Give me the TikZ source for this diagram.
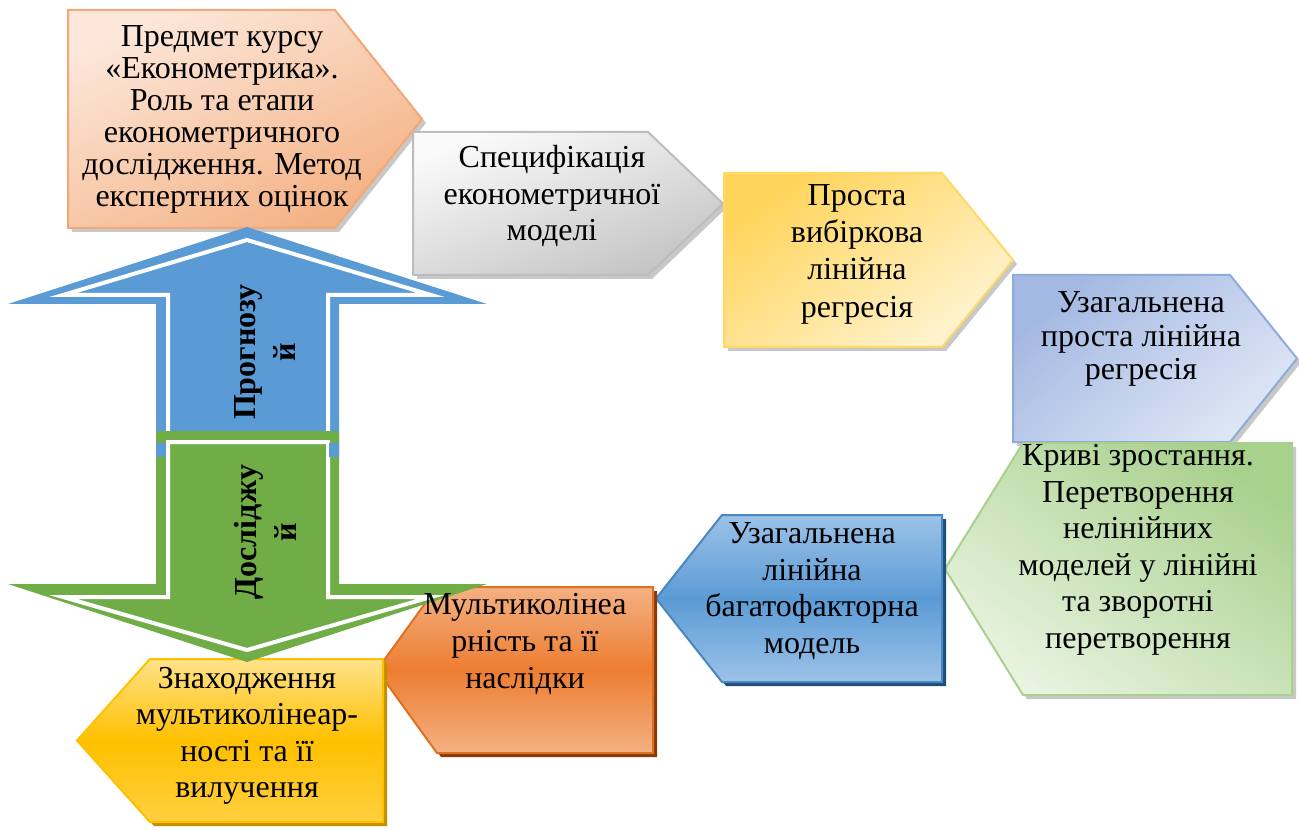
\documentclass[tikz,border=0pt]{standalone}
\usepackage{fontspec}
\setmainfont{Liberation Serif}
\definecolor{peachL}{HTML}{FCE7DA}
\definecolor{peachD}{HTML}{F4B183}
\definecolor{peachB}{HTML}{F2A878}
\definecolor{grayL}{HTML}{FAFAFA}
\definecolor{grayD}{HTML}{C4C4C4}
\definecolor{grayB}{HTML}{BDBDBD}
\definecolor{yelL}{HTML}{FFF4D2}
\definecolor{yelD}{HTML}{FFD45A}
\definecolor{yelB}{HTML}{FFD966}
\definecolor{lbL}{HTML}{DFE7F5}
\definecolor{lbD}{HTML}{A3B8E2}
\definecolor{lbB}{HTML}{8FAADC}
\definecolor{grnL}{HTML}{E8F3E0}
\definecolor{grnD}{HTML}{A9D18E}
\definecolor{grnB}{HTML}{A9D18E}
\definecolor{bluT}{HTML}{9CC2E8}
\definecolor{bluM}{HTML}{5B9BD5}
\definecolor{bluB}{HTML}{4A86C0}
\definecolor{bluS}{HTML}{1F4E79}
\definecolor{orT}{HTML}{F4B183}
\definecolor{orM}{HTML}{ED7D31}
\definecolor{orB}{HTML}{E0701F}
\definecolor{orS}{HTML}{843C0C}
\definecolor{goT}{HTML}{FFE28A}
\definecolor{goM}{HTML}{FFC000}
\definecolor{goB}{HTML}{FFC000}
\definecolor{goS}{HTML}{BF9000}
\definecolor{shGray}{HTML}{C8C8C8}
\definecolor{arBlue}{HTML}{5B9BD5}
\definecolor{arGreen}{HTML}{70AD47}
% right-pointing pentagon: style, shadow colour, x1, x2, xtip, y1, y2
\newcommand\rshape[7]{%
  \fill[#2] ([shift={(4,4)}]#3,#6) -- ([shift={(4,4)}]#4,#6) -- ([shift={(4,4)}]#5,{(#6+#7)/2}) -- ([shift={(4,4)}]#4,#7) -- ([shift={(4,4)}]#3,#7) -- cycle;
  \path[#1] (#3,#6) -- (#4,#6) -- (#5,{(#6+#7)/2}) -- (#4,#7) -- (#3,#7) -- cycle;}
% left-pointing pentagon: style, shadow colour, xtip, x2, xright, y1, y2
\newcommand\lshape[7]{%
  \fill[#2] ([shift={(4,4)}]#5,#6) -- ([shift={(4,4)}]#4,#6) -- ([shift={(4,4)}]#3,{(#6+#7)/2}) -- ([shift={(4,4)}]#4,#7) -- ([shift={(4,4)}]#5,#7) -- cycle;
  \path[#1] (#5,#6) -- (#4,#6) -- (#3,{(#6+#7)/2}) -- (#4,#7) -- (#5,#7) -- cycle;}
\begin{document}
\begin{tikzpicture}[x=0.75pt,y=-0.75pt,
  bord/.style={line width=1.5pt, line join=miter},
  txt/.style={align=center, inner sep=0pt, font=\fontsize{24}{27.4}\selectfont},
  atxt/.style={align=center, inner sep=0pt, rotate=90, font=\fontsize{24}{30}\selectfont\bfseries}]
\useasboundingbox (0,0) rectangle (1299,830);
\fill[white] (0,0) rectangle (1299,830);
% boxes
\rshape{bord, draw=peachB, top color=peachL, bottom color=peachD, shading angle=25}{shGray}{68}{335}{422}{10}{228}
\rshape{bord, draw=grayB, top color=grayL, bottom color=grayD, shading angle=20}{shGray}{413}{648}{723}{132}{275}
\rshape{bord, draw=yelB, top color=yelD, bottom color=yelL, shading angle=35}{shGray}{724}{942}{1013}{173}{347}
\rshape{bord, draw=lbB, top color=lbD, bottom color=lbL, shading angle=40}{shGray}{1013}{1230}{1297}{275}{442}
\lshape{bord, draw=grnB, top color=grnD, bottom color=grnL, shading angle=-35}{shGray}{945}{1023}{1292}{443}{695}
\lshape{bord, draw=bluB, top color=bluT, bottom color=bluT, middle color=bluM}{bluS}{656}{722}{942}{515}{682}
\lshape{bord, draw=orB, top color=orT, bottom color=orT, middle color=orM}{orS}{377}{437}{653}{587}{753}
\lshape{bord, draw=goB, top color=goT, bottom color=goM!75!white, middle color=goM}{goS}{77}{150}{383}{659}{822}
% double arrow
\fill[arBlue] (247,227) -- (487,304) -- (339,304) -- (339,457) -- (156,457) -- (156,304) -- (8,304) -- cycle;
\draw[white, line width=3pt, line join=miter] (168,457) -- (168,295) -- (63,295) -- (247,240) -- (431,295) -- (328,295) -- (328,457);
\fill[arGreen] (156,431) -- (339,431) -- (339,584) -- (487,584) -- (247,662) -- (8,584) -- (156,584) -- cycle;
\draw[white, line width=3pt, line join=miter] (168,442) -- (328,442) -- (328,597) -- (431,597) -- (247,650) -- (63,597) -- (168,597) -- cycle;
\fill[arBlue] (156,443) rectangle (166,457);
\fill[arBlue] (329,443) rectangle (339,457);
% texts
\node[txt, font=\fontsize{24}{24}\selectfont] (t1) at (222,119) {Предмет курсу\\«Економетрика».\\Роль та етапи\\економетричного\\дослідження. Метод\\експертних оцінок};
\node[txt] (t2) at (552,196) {Специфікація\\економетричної\\моделі};
\node[txt, font=\fontsize{24}{28}\selectfont] (t3) at (857,254) {Проста\\вибіркова\\лінійна\\регресія};
\node[txt, font=\fontsize{24}{25}\selectfont] (t4) at (1141,339) {Узагальнена\\проста лінійна\\регресія};
\node[txt] (t5) at (1138,550) {Криві зростання.\\Перетворення\\нелінійних\\моделей у лінійні\\та зворотні\\перетворення};
\node[txt] (t6) at (812,591) {Узагальнена\\лінійна\\багатофакторна\\модель};
\node[txt] (t7) at (525,644) {Мультиколінеа\\рність та її\\наслідки};
\node[txt] (t8) at (247,736) {Знаходження\\мультиколінеар-\\ності та її\\вилучення};
\node[atxt] (a1) at (265,352) {Прогнозу\\й};
\node[atxt] (a2) at (265,532) {Досліджу\\й};
\end{tikzpicture}
\end{document}
